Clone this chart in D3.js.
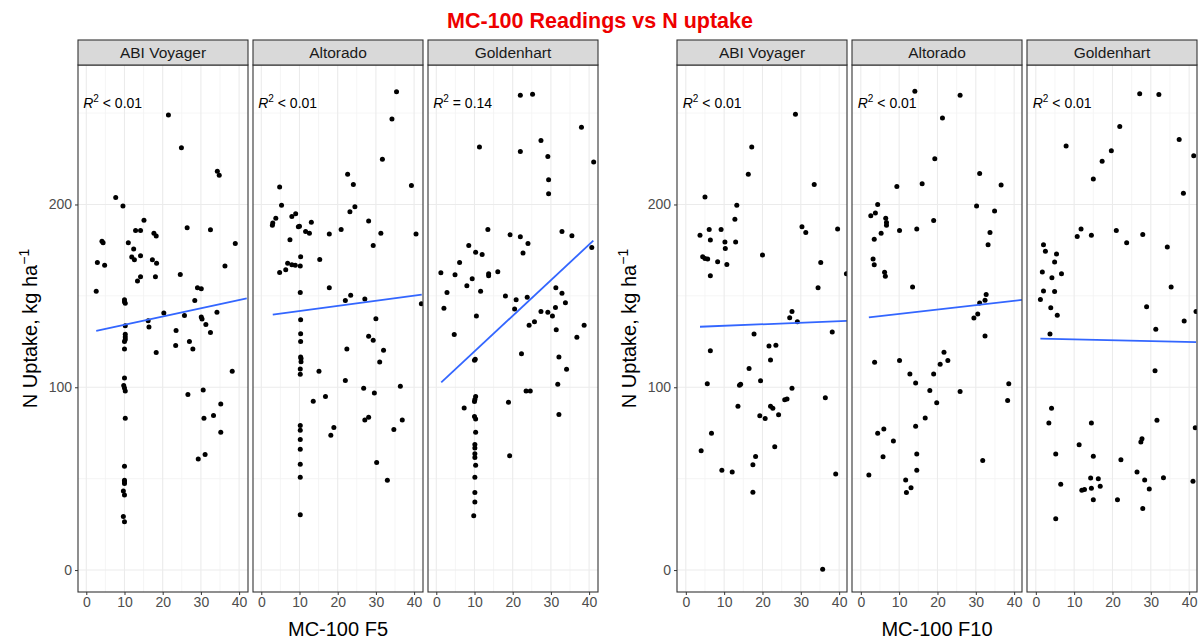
<!DOCTYPE html>
<html>
<head>
<meta charset="utf-8">
<script src="https://cdn.jsdelivr.net/npm/d3@7"></script>
<style>
body { margin: 0; background: #fff; }
svg text { font-family: "Liberation Sans", Arial, sans-serif; }
</style>
</head>
<body>
<svg id="chart" width="1199" height="640"></svg>
<script>
//data
var varieties = ['ABI Voyager', 'Altorado', 'Goldenhart'];
var xTicks = [0, 10, 20, 30, 40],
    xMinor = [5, 15, 25, 35],
    yTicks = [0, 100, 200],
    yMinor = [50, 150, 250];

var f5Voyager = [[21.5,249.0],[24.9,231.0],[34.3,218.2],[34.8,216.0],[7.7,203.8],[9.6,199.1],[15.1,191.4],[12.9,185.8],[14.2,185.8],[17.7,184.3],[18.3,182.7],[26.4,187.3],[32.5,186.2],[4.1,179.9],[4.4,179.1],[11.0,179.1],[39.0,178.7],[12.4,175.6],[14.2,172.0],[11.9,171.2],[12.6,169.8],[17.3,169.8],[18.4,167.8],[2.9,168.3],[4.8,166.8],[36.3,166.3],[24.6,161.7],[14.2,160.5],[13.4,158.1],[18.1,160.5],[2.6,152.5],[29.1,154.5],[30.1,153.9],[10.0,147.9],[10.2,145.9],[10.0,146.8],[28.4,147.4],[20.3,140.6],[25.7,139.2],[30.1,138.4],[30.3,137.3],[34.2,141.1],[16.2,136.4],[31.3,134.4],[10.2,133.7],[16.4,133.0],[23.5,131.0],[32.5,129.9],[10.2,129.0],[10.2,127.5],[10.2,126.1],[10.0,125.1],[23.4,122.8],[27.0,125.1],[27.9,120.9],[10.0,120.9],[18.3,119.0],[38.2,108.7],[10.0,105.1],[9.8,100.9],[10.0,99.6],[10.2,98.0],[26.6,96.0],[30.6,98.5],[35.2,90.9],[10.2,83.1],[30.8,83.1],[33.3,84.5],[35.2,75.4],[31.1,63.2],[29.3,60.7],[10.0,56.8],[10.0,49.2],[10.0,48.3],[10.0,47.4],[9.7,43.2],[10.0,41.0],[9.7,29.3],[10.0,26.4]];

var f5Altorado = [[35.4,261.7],[34.2,246.8],[31.7,224.8],[22.6,216.6],[24.1,210.9],[4.8,209.5],[39.3,210.4],[5.3,199.6],[24.5,198.7],[23.2,196.0],[3.8,192.5],[3.0,189.8],[2.9,188.7],[8.0,193.4],[9.0,194.9],[13.1,190.3],[9.7,187.8],[10.0,188.1],[11.6,185.2],[12.6,184.3],[28.1,190.9],[20.9,186.3],[17.8,183.8],[31.3,184.3],[40.5,183.8],[7.5,180.7],[29.3,177.6],[10.3,171.4],[15.3,169.9],[6.9,167.9],[8.0,167.0],[8.9,166.8],[10.2,166.3],[6.4,164.3],[4.8,162.8],[10.2,151.9],[17.8,154.5],[23.4,150.3],[22.0,147.4],[27.1,148.3],[41.9,145.7],[10.3,137.0],[30.0,137.5],[10.3,129.3],[10.3,125.1],[28.1,127.9],[29.3,125.7],[22.4,120.9],[32.0,120.2],[10.3,116.6],[10.4,115.7],[10.4,114.0],[31.0,113.8],[10.2,110.0],[10.2,107.1],[15.1,108.7],[22.0,103.7],[36.4,100.5],[26.8,99.5],[29.6,96.9],[16.8,94.9],[13.6,92.3],[28.1,83.6],[27.1,82.1],[36.9,82.1],[34.7,76.9],[10.2,79.1],[10.2,76.5],[19.0,78.0],[18.2,73.8],[10.2,71.4],[10.2,66.1],[10.2,57.9],[30.2,58.9],[10.2,50.8],[33.0,49.2],[10.2,30.2]];

var f5Goldenhart = [[22.0,259.7],[25.2,260.3],[38.0,242.2],[27.4,235.0],[11.3,231.5],[22.0,229.0],[29.2,226.2],[41.2,223.3],[29.4,213.5],[29.4,205.8],[13.5,186.3],[19.3,183.4],[22.0,182.4],[32.9,185.2],[35.5,182.9],[24.0,178.7],[8.5,177.6],[40.7,176.5],[10.3,173.9],[12.0,172.7],[22.7,173.4],[6.1,168.3],[1.2,162.7],[4.9,161.6],[13.7,162.1],[13.7,161.0],[16.1,163.2],[9.4,159.4],[8.0,155.6],[2.8,151.9],[11.6,152.5],[31.3,154.5],[32.9,151.4],[18.1,149.9],[20.9,147.9],[23.8,149.3],[33.8,146.3],[2.0,143.2],[20.5,142.8],[10.5,139.0],[27.4,141.4],[29.2,141.1],[30.4,139.0],[31.2,143.7],[24.3,133.9],[25.7,135.9],[38.7,133.9],[31.4,131.5],[4.7,128.8],[36.8,127.3],[10.2,115.3],[10.0,114.8],[22.3,118.4],[32.1,116.6],[34.1,109.8],[31.8,101.6],[23.5,98.0],[24.6,98.0],[10.3,94.9],[10.1,93.3],[10.0,92.2],[7.3,88.7],[18.9,91.8],[32.1,85.1],[10.0,84.0],[10.3,82.7],[10.3,75.4],[10.1,68.7],[10.1,66.8],[10.1,63.6],[10.1,61.6],[10.3,57.4],[19.2,62.5],[10.1,50.8],[10.1,42.5],[10.1,37.2],[9.8,29.7]];

var f10Voyager = [[28.6,249.3],[17.2,231.4],[16.3,216.6],[33.5,210.9],[5.0,204.1],[13.3,199.6],[12.8,191.9],[30.3,187.8],[31.3,184.7],[39.6,186.6],[6.1,186.3],[9.2,186.3],[3.7,183.2],[6.4,180.6],[10.2,179.5],[13.0,179.5],[10.3,175.9],[20.0,172.3],[4.4,171.4],[5.0,170.4],[5.7,170.2],[8.3,168.7],[10.7,167.2],[35.2,168.2],[6.4,161.0],[41.9,162.1],[34.5,154.4],[27.7,141.4],[27.1,138.0],[29.1,135.8],[38.2,130.3],[17.8,129.2],[21.7,122.6],[23.5,123.0],[6.4,120.0],[22.1,114.9],[16.5,110.2],[19.5,103.6],[5.6,101.9],[14.3,101.7],[14.0,101.1],[27.7,99.4],[26.4,93.6],[25.8,93.2],[36.4,94.2],[13.6,89.6],[22.1,89.6],[22.7,88.5],[19.3,84.4],[20.7,82.9],[24.2,84.9],[6.7,74.8],[23.2,67.4],[4.0,65.3],[18.2,62.1],[17.5,57.6],[9.4,54.6],[12.1,53.7],[39.1,52.5],[17.5,42.6],[35.7,0.4]];

var f10Altorado = [[14.1,262.0],[25.9,259.7],[21.3,247.3],[19.3,225.0],[31.0,216.9],[16.0,211.3],[9.4,209.8],[36.6,210.7],[4.4,200.0],[30.2,199.1],[2.6,193.8],[3.8,195.3],[34.9,196.4],[6.5,192.5],[6.7,190.2],[6.7,188.7],[19.0,191.3],[14.6,186.6],[10.1,185.7],[5.3,184.2],[33.7,184.6],[3.5,181.0],[33.2,178.0],[3.2,170.2],[3.5,167.0],[6.2,162.9],[6.4,160.8],[13.5,154.8],[32.7,150.7],[32.4,147.6],[31.0,146.1],[30.5,140.1],[29.5,137.9],[32.4,128.1],[21.7,119.2],[3.6,113.7],[10.1,114.7],[22.7,114.7],[20.7,112.6],[12.8,107.2],[19.0,107.2],[14.3,102.4],[38.6,101.9],[18.0,98.3],[25.9,97.7],[38.3,92.7],[19.8,91.5],[16.8,83.2],[14.3,78.7],[6.0,77.2],[4.4,74.8],[8.5,70.6],[14.6,63.5],[5.8,62.0],[31.8,59.9],[14.6,54.6],[2.1,52.0],[11.7,49.3],[13.1,45.0],[11.9,42.4]];

var f10Goldenhart = [[27.1,260.6],[32.1,260.1],[21.9,242.7],[37.4,235.6],[7.9,232.0],[19.7,229.4],[17.3,223.7],[41.2,226.7],[15.0,213.9],[38.5,206.2],[11.8,186.6],[10.8,182.5],[14.5,183.2],[21.0,185.7],[27.9,183.6],[23.7,179.1],[34.3,176.8],[2.0,178.0],[2.5,174.4],[5.4,172.9],[4.9,168.5],[1.7,163.1],[4.2,159.9],[6.7,162.1],[35.3,154.8],[2.0,152.7],[4.9,152.4],[1.2,148.0],[3.9,143.5],[28.9,144.1],[5.6,139.4],[41.8,141.4],[38.7,136.3],[31.3,131.8],[3.7,129.2],[31.1,109.0],[4.1,88.5],[3.4,80.4],[14.5,80.4],[31.6,81.9],[41.6,77.8],[27.4,70.1],[27.7,71.9],[11.3,68.5],[5.2,63.5],[15.0,62.3],[22.2,60.3],[26.4,53.7],[33.3,50.5],[14.3,50.3],[16.3,49.9],[28.4,49.3],[41.0,48.6],[6.5,46.9],[16.8,45.8],[14.5,44.8],[12.7,44.1],[12.0,43.7],[29.6,44.4],[15.0,38.4],[21.3,38.4],[27.9,33.7],[5.2,28.1]];

//fitted lines, [x start, y start, x end, y end]
var f5Fits = [[2.6, 130.9, 42.0, 148.6], [3.0, 139.7, 42.0, 150.7], [1.3, 102.7, 41.1, 180.2]];
var f10Fits = [[3.7, 133.1, 42.0, 136.3], [2.1, 138.2, 42.0, 147.8], [1.2, 126.6, 41.8, 124.7]];
var f5R2 = [' < 0.01', ' < 0.01', ' = 0.14'];
var f10R2 = [' < 0.01', ' < 0.01', ' < 0.01'];

//sizes
var panelW = 170,
    panelH = 527,
    panelStep = 175,
    panelTop = 65,
    stripH = 25;

var charts = [
    {xTitle: 'MC-100 F5', left: 78, xDomain: [-2.17, 42.33], panels: [f5Voyager, f5Altorado, f5Goldenhart], fits: f5Fits, r2: f5R2},
    {xTitle: 'MC-100 F10', left: 677, xDomain: [-2.3, 42.05], panels: [f10Voyager, f10Altorado, f10Goldenhart], fits: f10Fits, r2: f10R2}
];

var svg = d3.select('#chart');

svg.append('text')
    .attr('x', 600)
    .attr('y', 28)
    .attr('text-anchor', 'middle')
    .style('font-size', '21.5px')
    .style('font-weight', 'bold')
    .attr('fill', '#ee0000')
    .text('MC-100 Readings vs N uptake');

var yScale = d3.scaleLinear()
    .domain([-12, 276.3])
    .range([panelH, 0]);

charts.forEach(function(chart, ci) {
    var xScale = d3.scaleLinear()
        .domain(chart.xDomain)
        .range([0, panelW]);

    var chartG = svg.append('g');

    //y title
    var yt = chartG.append('text')
        .attr('transform', 'translate(' + (chart.left - 41) + ',' + (panelTop + panelH / 2) + ') rotate(-90)')
        .attr('text-anchor', 'middle')
        .style('font-size', '20px')
        .attr('fill', '#000');
    yt.append('tspan').text('N Uptake, kg ha');
    yt.append('tspan').attr('dy', -8).style('font-size', '14px').text('\u22121');

    //x title
    chartG.append('text')
        .attr('x', chart.left + panelStep + panelW / 2)
        .attr('y', 636)
        .attr('text-anchor', 'middle')
        .style('font-size', '20px')
        .attr('fill', '#000')
        .text(chart.xTitle);

    chart.panels.forEach(function(pts, pi) {
        var px = chart.left + pi * panelStep;
        var g = chartG.append('g')
            .attr('transform', 'translate(' + px + ',' + panelTop + ')');

        var clipId = 'clip-' + ci + '-' + pi;
        g.append('clipPath').attr('id', clipId)
            .append('rect').attr('width', panelW).attr('height', panelH);

        //grid
        g.selectAll('.minor-x').data(xMinor).enter().append('line')
            .attr('x1', function(d) { return xScale(d); })
            .attr('x2', function(d) { return xScale(d); })
            .attr('y1', 0).attr('y2', panelH)
            .attr('stroke', '#f3f3f3').attr('stroke-width', 0.8);
        g.selectAll('.minor-y').data(yMinor).enter().append('line')
            .attr('y1', function(d) { return yScale(d); })
            .attr('y2', function(d) { return yScale(d); })
            .attr('x1', 0).attr('x2', panelW)
            .attr('stroke', '#f3f3f3').attr('stroke-width', 0.8);
        g.selectAll('.major-x').data(xTicks).enter().append('line')
            .attr('x1', function(d) { return xScale(d); })
            .attr('x2', function(d) { return xScale(d); })
            .attr('y1', 0).attr('y2', panelH)
            .attr('stroke', '#ebebeb').attr('stroke-width', 1.1);
        g.selectAll('.major-y').data(yTicks).enter().append('line')
            .attr('y1', function(d) { return yScale(d); })
            .attr('y2', function(d) { return yScale(d); })
            .attr('x1', 0).attr('x2', panelW)
            .attr('stroke', '#ebebeb').attr('stroke-width', 1.1);

        //points
        var plotG = g.append('g').attr('clip-path', 'url(#' + clipId + ')');
        plotG.selectAll('circle').data(pts).enter().append('circle')
            .attr('cx', function(d) { return xScale(d[0]); })
            .attr('cy', function(d) { return yScale(d[1]); })
            .attr('r', 2.5)
            .attr('fill', '#000');

        var fit = chart.fits[pi];
        plotG.append('line')
            .attr('x1', xScale(fit[0])).attr('y1', yScale(fit[1]))
            .attr('x2', xScale(fit[2])).attr('y2', yScale(fit[3]))
            .attr('stroke', '#3366ff').attr('stroke-width', 1.8);

        //r2 label
        var r2 = g.append('text')
            .attr('x', xScale(-0.8))
            .attr('y', yScale(253))
            .style('font-size', '14px')
            .attr('fill', '#000');
        r2.append('tspan').style('font-style', 'italic').text('R');
        r2.append('tspan').attr('dy', -6).style('font-size', '10px').text('2');
        r2.append('tspan').attr('dy', 6).text(chart.r2[pi]);

        //border
        g.append('rect')
            .attr('width', panelW).attr('height', panelH)
            .attr('fill', 'none').attr('stroke', '#333').attr('stroke-width', 1.1);

        //strip
        g.append('rect')
            .attr('y', -stripH).attr('width', panelW).attr('height', stripH)
            .attr('fill', '#d9d9d9').attr('stroke', '#333').attr('stroke-width', 1.1);
        g.append('text')
            .attr('x', panelW / 2).attr('y', -stripH / 2 + 5.5)
            .attr('text-anchor', 'middle')
            .style('font-size', '15.5px')
            .attr('fill', '#1a1a1a')
            .text(varieties[pi]);

        //x axis
        var xAxisG = g.append('g')
            .attr('transform', 'translate(0,' + panelH + ')')
            .call(d3.axisBottom(xScale).tickValues(xTicks).tickSize(3).tickPadding(2));
        xAxisG.select('.domain').remove();
        xAxisG.selectAll('line').attr('stroke', '#333');
        xAxisG.selectAll('text')
            .style('font-size', '14px')
            .style('font-family', '"Liberation Sans", Arial, sans-serif')
            .attr('fill', '#4d4d4d');

        //y axis on first panel only
        if (pi == 0) {
            var yAxisG = g.append('g')
                .call(d3.axisLeft(yScale).tickValues(yTicks).tickSize(3).tickPadding(3));
            yAxisG.select('.domain').remove();
            yAxisG.selectAll('line').attr('stroke', '#333');
            yAxisG.selectAll('text')
                .style('font-size', '14px')
                .style('font-family', '"Liberation Sans", Arial, sans-serif')
                .attr('fill', '#4d4d4d');
        }
    });
});
</script>
</body>
</html>
